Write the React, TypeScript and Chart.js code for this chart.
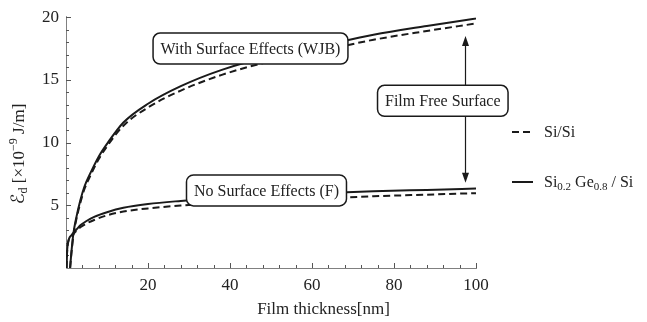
import React, { useEffect, useRef } from 'react';
import { Chart, registerables } from 'chart.js';

Chart.register(...registerables);

// Tick labels
const xTickValues = [20, 40, 60, 80, 100];
const yTickValues = [5, 10, 15, 20];

// With Surface Effects (WJB)
const wjbX = [1.0, 1.3, 1.8, 2.5, 3.5, 4.5, 6, 8, 10, 14, 20, 28, 38, 50, 62, 75, 88, 100];
const wjbSiGe = [0, 1.2, 2.75, 4.0, 5.4, 6.5, 7.6, 8.9, 9.9, 11.6, 13.1, 14.5, 15.8, 16.9, 17.7, 18.6, 19.3, 19.9];
const wjbSi = [0, 1.1, 2.6, 3.85, 5.2, 6.3, 7.4, 8.7, 9.7, 11.35, 12.8, 14.15, 15.4, 16.5, 17.3, 18.2, 18.9, 19.5];

// No Surface Effects (F)
const fX = [0.15, 0.25, 0.4, 0.6, 0.9, 1.3, 1.8, 2.5, 3.5, 5, 7, 10, 14, 20, 28, 38, 50, 62, 75, 88, 100];
const fSiGe = [0, 1.2, 1.85, 2.2, 2.45, 2.6, 2.8, 3.05, 3.4, 3.75, 4.1, 4.45, 4.8, 5.1, 5.35, 5.6, 5.8, 5.97, 6.12, 6.23, 6.33];
const fSi = [0, 1.15, 1.8, 2.15, 2.4, 2.55, 2.72, 2.95, 3.25, 3.55, 3.85, 4.2, 4.5, 4.75, 4.98, 5.18, 5.38, 5.55, 5.72, 5.85, 5.97];

// Annotations (data coordinates)
const boxLabels = ['With Surface Effects (WJB)', 'No Surface Effects (F)', 'Film Free Surface'];
const boxX = [45, 48.9, 91.9];
const boxY = [17.5, 6.19, 13.33];
const arrowX = 97.3;
const arrowTop = 18.5;
const arrowBottom = 6.8;

const SERIF = '"Liberation Serif", "Times New Roman", serif';
const SCRIPT = '"DejaVu Sans", "DejaVu Serif", serif';
const INK = '#1a1a1a';

const toPts = (xs: number[], ys: number[]) => xs.map((x, i) => ({ x, y: ys[i] }));

function roundRect(ctx: CanvasRenderingContext2D, x: number, y: number, w: number, h: number, r: number) {
  ctx.beginPath();
  ctx.moveTo(x + r, y);
  ctx.lineTo(x + w - r, y);
  ctx.arcTo(x + w, y, x + w, y + r, r);
  ctx.lineTo(x + w, y + h - r);
  ctx.arcTo(x + w, y + h, x + w - r, y + h, r);
  ctx.lineTo(x + r, y + h);
  ctx.arcTo(x, y + h, x, y + h - r, r);
  ctx.lineTo(x, y + r);
  ctx.arcTo(x, y, x + r, y, r);
  ctx.closePath();
}

type Piece = { t: string; size: number; dy: number; family?: string };

function drawPieces(ctx: CanvasRenderingContext2D, pieces: Piece[], x: number, y: number, center: boolean) {
  let total = 0;
  for (const p of pieces) {
    ctx.font = `${p.size}px ${p.family || SERIF}`;
    total += ctx.measureText(p.t).width;
  }
  let cx = center ? x - total / 2 : x;
  for (const p of pieces) {
    ctx.font = `${p.size}px ${p.family || SERIF}`;
    ctx.fillText(p.t, cx, y + p.dy);
    cx += ctx.measureText(p.t).width;
  }
}

const decorPlugin = {
  id: 'decor',
  beforeDatasetsDraw(chart: any) {
    const { ctx, chartArea, scales } = chart;
    const xs = scales.x;
    const ys = scales.y;
    ctx.save();
    // axis lines
    ctx.strokeStyle = '#808080';
    ctx.lineWidth = 1;
    ctx.beginPath();
    ctx.moveTo(chartArea.left + 0.5, chartArea.top - 1);
    ctx.lineTo(chartArea.left + 0.5, chartArea.bottom + 0.5);
    ctx.lineTo(chartArea.right + 1, chartArea.bottom + 0.5);
    ctx.stroke();
    // x ticks (inward)
    ctx.strokeStyle = '#555';
    for (let v = 4; v <= 100; v += 4) {
      const px = Math.round(xs.getPixelForValue(v)) + 0.5;
      const major = v % 20 === 0;
      ctx.beginPath();
      ctx.moveTo(px, chartArea.bottom);
      ctx.lineTo(px, chartArea.bottom - (major ? 5 : 3));
      ctx.stroke();
    }
    // y ticks (inward)
    for (let v = 1; v <= 20; v += 1) {
      const py = Math.round(ys.getPixelForValue(v)) + 0.5;
      const major = v % 5 === 0;
      ctx.beginPath();
      ctx.moveTo(chartArea.left, py);
      ctx.lineTo(chartArea.left + (major ? 5 : 3), py);
      ctx.stroke();
    }
    ctx.restore();
  },
  afterDatasetsDraw(chart: any) {
    const { ctx, chartArea, scales, width } = chart;
    const xs = scales.x;
    const ys = scales.y;
    ctx.save();
    ctx.fillStyle = INK;
    ctx.strokeStyle = INK;

    // arrow
    const ax = Math.round(xs.getPixelForValue(arrowX)) + 0.5;
    const at = ys.getPixelForValue(arrowTop);
    const ab = ys.getPixelForValue(arrowBottom);
    ctx.lineWidth = 1.2;
    ctx.beginPath();
    ctx.moveTo(ax, at + 6);
    ctx.lineTo(ax, ab - 6);
    ctx.stroke();
    ctx.beginPath();
    ctx.moveTo(ax, at);
    ctx.lineTo(ax - 3.5, at + 10);
    ctx.lineTo(ax + 3.5, at + 10);
    ctx.closePath();
    ctx.fill();
    ctx.beginPath();
    ctx.moveTo(ax, ab);
    ctx.lineTo(ax - 3.5, ab - 10);
    ctx.lineTo(ax + 3.5, ab - 10);
    ctx.closePath();
    ctx.fill();

    // label boxes
    ctx.textAlign = 'center';
    ctx.textBaseline = 'middle';
    boxLabels.forEach((label, i) => {
      const cx = xs.getPixelForValue(boxX[i]);
      const cy = ys.getPixelForValue(boxY[i]);
      ctx.font = `16px ${SERIF}`;
      const w = ctx.measureText(label).width + 15;
      const h = 31;
      roundRect(ctx, cx - w / 2, cy - h / 2, w, h, 7);
      ctx.fillStyle = '#ffffff';
      ctx.fill();
      ctx.lineWidth = 1.5;
      ctx.strokeStyle = INK;
      ctx.stroke();
      ctx.fillStyle = '#222';
      ctx.fillText(label, cx, cy + 1);
    });

    // legend
    const lx0 = chartArea.right + 36;
    const lx1 = lx0 + 21;
    const ly1 = 132;
    const ly2 = 182;
    ctx.lineWidth = 2;
    ctx.strokeStyle = INK;
    ctx.setLineDash([7, 4]);
    ctx.beginPath();
    ctx.moveTo(lx0, ly1);
    ctx.lineTo(lx1, ly1);
    ctx.stroke();
    ctx.setLineDash([]);
    ctx.beginPath();
    ctx.moveTo(lx0, ly2);
    ctx.lineTo(lx1, ly2);
    ctx.stroke();
    ctx.fillStyle = '#222';
    ctx.textAlign = 'left';
    ctx.textBaseline = 'alphabetic';
    drawPieces(ctx, [{ t: 'Si/Si', size: 16, dy: 0 }], lx1 + 11, ly1 + 5, false);
    drawPieces(
      ctx,
      [
        { t: 'Si', size: 16, dy: 0 },
        { t: '0.2', size: 11, dy: 3 },
        { t: ' Ge', size: 16, dy: 0 },
        { t: '0.8', size: 11, dy: 3 },
        { t: ' / Si', size: 16, dy: 0 },
      ],
      lx1 + 11,
      ly2 + 5,
      false
    );

    // x title
    drawPieces(ctx, [{ t: 'Film thickness[nm]', size: 17, dy: 0 }], width / 2, 314, true);

    // y title (rotated)
    ctx.save();
    ctx.translate(24, 154);
    ctx.rotate(-Math.PI / 2);
    drawPieces(
      ctx,
      [
        { t: 'ℰ', size: 18, dy: 0, family: SCRIPT },
        { t: 'd', size: 12, dy: 3 },
        { t: ' [×10', size: 17, dy: 0 },
        { t: '−9', size: 12, dy: -7 },
        { t: ' J/m]', size: 17, dy: 0 },
      ],
      0,
      0,
      true
    );
    ctx.restore();

    ctx.restore();
  },
};

export default function App() {
  const canvasRef = useRef<HTMLCanvasElement | null>(null);

  useEffect(() => {
    const canvas = canvasRef.current;
    if (!canvas) return;
    const line = (data: { x: number; y: number }[], dashed: boolean) => ({
      data,
      borderColor: INK,
      borderWidth: 2,
      borderDash: dashed ? [7, 4] : [],
      pointRadius: 0,
      fill: false,
      cubicInterpolationMode: 'monotone' as const,
    });
    const chart = new Chart(canvas, {
      type: 'line',
      data: {
        datasets: [
          { label: 'Si/Si WJB', ...line(toPts(wjbX, wjbSi), true) },
          { label: 'SiGe WJB', ...line(toPts(wjbX, wjbSiGe), false) },
          { label: 'Si/Si F', ...line(toPts(fX, fSi), true) },
          { label: 'SiGe F', ...line(toPts(fX, fSiGe), false) },
        ],
      },
      options: {
        animation: false,
        responsive: false,
        maintainAspectRatio: false,
        layout: { padding: { left: 0, right: 171, top: 16, bottom: 0 } },
        plugins: { legend: { display: false }, tooltip: { enabled: false }, title: { display: false } },
        scales: {
          x: {
            type: 'linear',
            min: 0,
            max: 100,
            border: { display: false },
            grid: { display: false, drawTicks: false },
            afterBuildTicks: (scale: any) => {
              scale.ticks = xTickValues.map((v) => ({ value: v }));
            },
            afterFit: (scale: any) => {
              scale.height = 54;
            },
            ticks: {
              padding: 7,
              color: '#222',
              font: { family: SERIF, size: 17 },
              maxRotation: 0,
              autoSkip: false,
            },
          },
          y: {
            type: 'linear',
            min: 0,
            max: 20,
            border: { display: false },
            grid: { display: false, drawTicks: false },
            afterBuildTicks: (scale: any) => {
              scale.ticks = yTickValues.map((v) => ({ value: v }));
            },
            afterFit: (scale: any) => {
              scale.width = 66;
            },
            ticks: {
              padding: 7,
              color: '#222',
              font: { family: SERIF, size: 17 },
              autoSkip: false,
            },
          },
        },
      },
      plugins: [decorPlugin],
    });
    return () => chart.destroy();
  }, []);

  return (
    <div style={{ position: 'fixed', left: 0, top: 0, width: 647, height: 322, background: '#fff' }}>
      <canvas ref={canvasRef} width={647} height={322} style={{ display: 'block', width: 647, height: 322 }} />
    </div>
  );
}
